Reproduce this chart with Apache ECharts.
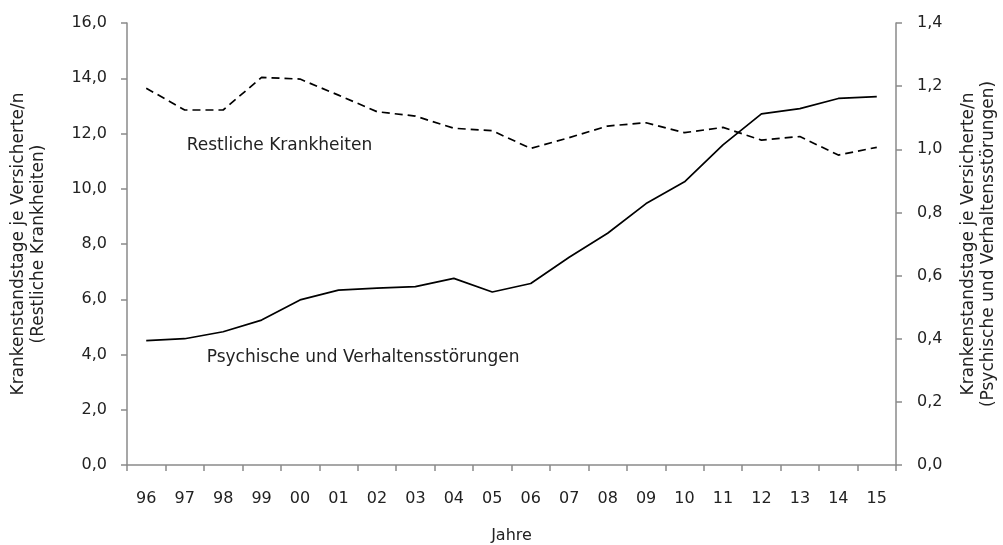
<!DOCTYPE html>
<html>
<head>
<meta charset="utf-8">
<script src="https://cdn.jsdelivr.net/npm/echarts@6/dist/echarts.min.js"></script>
<style>html,body{margin:0;padding:0;background:#fff;}#c{width:1003px;height:545px;}</style>
</head>
<body>
<div id="c"></div>
<script>
var categories = ['96','97','98','99','00','01','02','03','04','05','06','07','08','09','10','11','12','13','14','15'];
var restliche = [13.64,12.85,12.85,14.03,13.97,13.39,12.79,12.63,12.19,12.10,11.46,11.85,12.27,12.39,12.03,12.22,11.76,11.89,11.22,11.50];
var psychische = [0.394,0.400,0.422,0.459,0.523,0.554,0.560,0.565,0.591,0.548,0.575,0.658,0.734,0.828,0.897,1.014,1.112,1.129,1.161,1.167];
var leftTitle = 'Krankenstandstage je Versicherte/n\n(Restliche Krankheiten)';
var rightTitle = 'Krankenstandstage je Versicherte/n\n(Psychische und Verhaltensstörungen)';
var labelRest = 'Restliche Krankheiten';
var labelPsych = 'Psychische und Verhaltensstörungen';

var FONT = 'DejaVu Sans';
var axisCol = '#8a8a8a';
var txt = '#222222';
var chart = echarts.init(document.getElementById('c'), null, {renderer: 'canvas'});
function fmt(d){ return function(v){ return v.toFixed(d).replace('.', ','); }; }
chart.setOption({
  animation: false,
  backgroundColor: '#fff',
  textStyle: {fontFamily: FONT},
  grid: {left: 127, right: 107, top: 23, bottom: 80, containLabel: false, outerBoundsMode: 'none'},
  xAxis: {
    type: 'category', data: categories, boundaryGap: true,
    name: 'Jahre', nameLocation: 'middle', nameGap: 63,
    nameTextStyle: {fontFamily: FONT, fontSize: 16, color: txt},
    axisLine: {lineStyle: {color: axisCol, width: 1.5}},
    axisTick: {show: true, interval: 0, length: 6, lineStyle: {color: axisCol, width: 1.5}},
    axisLabel: {interval: 0, margin: 26, fontFamily: FONT, fontSize: 16, color: txt},
    splitLine: {show: false}
  },
  yAxis: [{
    type: 'value', min: 0, max: 16, interval: 2, position: 'left',
    name: leftTitle, nameLocation: 'middle', nameRotate: 90, nameGap: 78,
    nameTextStyle: {fontFamily: FONT, fontSize: 17, color: txt, lineHeight: 20, align: 'center'},
    axisLine: {show: true, lineStyle: {color: axisCol, width: 1.5}},
    axisTick: {show: true, length: 6, lineStyle: {color: axisCol, width: 1.5}},
    axisLabel: {formatter: fmt(1), margin: 20, fontFamily: FONT, fontSize: 16, color: txt},
    splitLine: {show: false}
  }, {
    type: 'value', min: 0, max: 1.4, interval: 0.2, position: 'right',
    name: rightTitle, nameLocation: 'middle', nameRotate: 90, nameGap: 63,
    nameTextStyle: {fontFamily: FONT, fontSize: 17, color: txt, lineHeight: 20, align: 'center'},
    axisLine: {show: true, lineStyle: {color: axisCol, width: 1.5}},
    axisTick: {show: true, length: 6, lineStyle: {color: axisCol, width: 1.5}},
    axisLabel: {formatter: fmt(1), margin: 21, fontFamily: FONT, fontSize: 16, color: txt},
    splitLine: {show: false}
  }],
  series: [{
    type: 'line', name: labelRest, yAxisIndex: 0, data: restliche,
    showSymbol: false, symbol: 'none',
    lineStyle: {color: '#000', width: 1.7, type: [8, 5]},
    markPoint: {
      symbol: 'circle', symbolSize: 0, silent: true,
      label: {show: true, position: 'right', distance: 2, formatter: labelRest, fontFamily: FONT, fontSize: 17, color: txt},
      data: [{coord: ['97', 11.58]}]
    }
  }, {
    type: 'line', name: labelPsych, yAxisIndex: 1, data: psychische,
    showSymbol: false, symbol: 'none',
    lineStyle: {color: '#000', width: 1.7},
    markPoint: {
      symbol: 'circle', symbolSize: 0, silent: true,
      label: {show: true, position: 'right', distance: 2, offset: [20, 0], formatter: labelPsych, fontFamily: FONT, fontSize: 17, color: txt},
      data: [{coord: ['97', 0.34]}]
    }
  }]
});
</script>
</body>
</html>
